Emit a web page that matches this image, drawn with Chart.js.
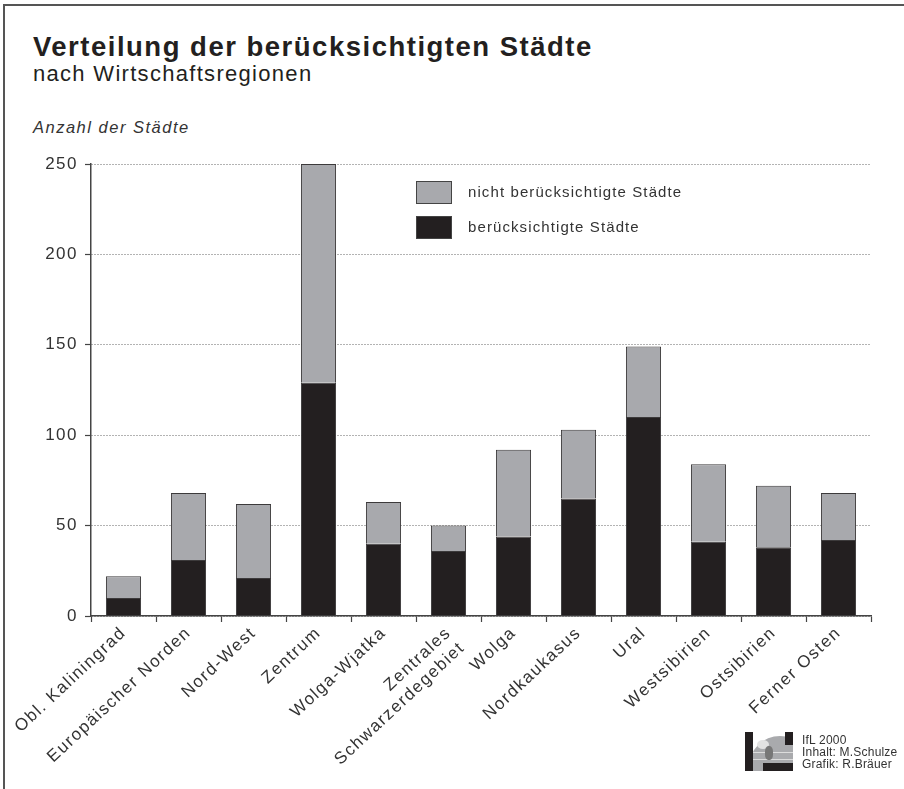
<!DOCTYPE html>
<html lang="de">
<head>
<meta charset="utf-8">
<title>Verteilung der berücksichtigten Städte</title>
<script src="https://cdn.jsdelivr.net/npm/chart.js@4/dist/chart.umd.min.js"></script>
<style>
    html, body { margin: 0; padding: 0; background: #fff; }
    body { width: 904px; height: 789px; position: relative; overflow: hidden;
           font-family: "Liberation Sans", Arial, sans-serif; color: #231f20; }
    .frame { position: absolute; left: 3px; top: 4px; width: 1000px; height: 900px;
             border-top: 2px solid #555; border-left: 2px solid #555; }
    .txt { position: absolute; white-space: nowrap; line-height: 1; }
    .title { left: 33px; top: 33px; font-size: 27.5px; font-weight: bold; letter-spacing: 1.5px; }
    .subtitle { left: 33px; top: 63px; font-size: 22px; letter-spacing: 1.3px; }
    .ytitle { left: 33px; top: 119px; font-size: 16.5px; font-style: italic; letter-spacing: 1.5px; color: #333; }
    canvas { position: absolute; left: 0; top: 0; }
    .legend { position: absolute; left: 416px; top: 181px; }
    .legend-row { position: relative; height: 35px; }
    .legend-box { position: absolute; left: 0; top: 0; width: 34px; height: 21px; border: 1px solid #444; }
    .legend-label { position: absolute; left: 52px; top: 3px; font-size: 15px; letter-spacing: 1.1px;
                    white-space: nowrap; color: #333; line-height: 1; }
    .logo { position: absolute; left: 745px; top: 732px; width: 48px; height: 39px; overflow: hidden; }
    .logo div { position: absolute; }
    .credits { position: absolute; left: 802px; top: 734px; font-size: 12px; line-height: 12px;
               letter-spacing: 0.2px; color: #333; white-space: nowrap; }
</style>
</head>
<body>
<div class="frame"></div>
<div class="txt title">Verteilung der berücksichtigten Städte</div>
<div class="txt subtitle">nach Wirtschaftsregionen</div>
<div class="txt ytitle">Anzahl der Städte</div>
<canvas id="chart" width="904" height="789"></canvas>
<div class="legend" id="legend"></div>
<div class="logo">
    <div style="left:4px;top:4px;width:62px;height:62px;border-radius:50%;background:#a9aaad;"></div>
    <div style="left:8px;top:20px;width:40px;height:1px;background:#dcdcdc;"></div>
    <div style="left:8px;top:27px;width:40px;height:1px;background:#dcdcdc;"></div>
    <div style="left:12px;top:8px;width:12px;height:9px;border-radius:50%;background:#e2e2e2;"></div>
    <div style="left:20px;top:14px;width:8px;height:14px;border-radius:40%;background:#777;"></div>
    <div style="left:0;top:0;width:8px;height:39px;background:#231f20;"></div>
    <div style="left:40px;top:0;width:8px;height:13px;background:#231f20;"></div>
    <div style="left:18px;top:31px;width:30px;height:8px;background:#231f20;"></div>
</div>
<div class="credits">IfL 2000<br>Inhalt: M.Schulze<br>Grafik: R.Bräuer</div>

<script>
// values (number of cities per economic region)
var regions = [
    'Obl. Kaliningrad', 'Europäischer Norden', 'Nord-West', 'Zentrum', 'Wolga-Wjatka',
    ['Zentrales', 'Schwarzerdegebiet'], 'Wolga', 'Nordkaukasus', 'Ural', 'Westsibirien',
    'Ostsibirien', 'Ferner Osten'
];
var consideredCities    = [10, 31, 21, 129, 40, 36, 44, 65, 110, 41, 38, 42];
var notConsideredCities = [12, 37, 41, 121, 23, 14, 48, 38, 39, 43, 34, 26];
var yTicks = [0, 50, 100, 150, 200, 250];

(function () {
    'use strict';

    var BLACK = '#231f20';
    var GREY = '#a8a9ad';
    var EDGE = '#3c3a3b';
    var SPACING = '1.5px';

    // Chart.js has no letter-spacing option; the print uses a wide grotesque
    var spacingPlugin = {
        id: 'spacing',
        beforeUpdate: function (chart) { chart.ctx.letterSpacing = SPACING; },
        beforeDraw: function (chart) { chart.ctx.letterSpacing = SPACING; }
    };

    Chart.defaults.font.family = '"Liberation Sans", Arial, sans-serif';
    Chart.defaults.color = '#333';

    var datasets = [
        { label: 'berücksichtigte Städte', data: consideredCities, backgroundColor: BLACK,
          borderColor: EDGE, borderWidth: 1, stack: 'cities' },
        { label: 'nicht berücksichtigte Städte', data: notConsideredCities, backgroundColor: GREY,
          borderColor: EDGE, borderWidth: 1, stack: 'cities' }
    ];

    // legend: upper entry is the grey (top) segment
    var legend = document.getElementById('legend');
    datasets.slice().reverse().forEach(function (ds) {
        var row = document.createElement('div');
        row.className = 'legend-row';
        row.innerHTML = '<div class="legend-box" style="background:' + ds.backgroundColor + '"></div>' +
            '<div class="legend-label"></div>';
        row.querySelector('.legend-label').textContent = ds.label;
        legend.appendChild(row);
    });

    new Chart(document.getElementById('chart'), {
        type: 'bar',
        data: { labels: regions, datasets: datasets },
        plugins: [spacingPlugin],
        options: {
            responsive: false,
            animation: false,
            layout: { padding: { top: 164, right: 33, left: 0, bottom: 0 } },
            plugins: {
                legend: { display: false },
                tooltip: { enabled: false }
            },
            datasets: { bar: { barPercentage: 0.54, categoryPercentage: 1.0 } },
            scales: {
                x: {
                    stacked: true,
                    offset: true,
                    grid: { display: true, drawOnChartArea: false, drawTicks: true,
                            tickLength: 6, tickColor: '#444', tickWidth: 1.2 },
                    border: { display: true, color: '#444', width: 1.5 },
                    ticks: { minRotation: 43, maxRotation: 43, autoSkip: false, padding: 1,
                             color: '#333', font: { size: 17 } },
                    afterFit: function (scale) { scale.height = 173; }
                },
                y: {
                    stacked: true,
                    min: 0,
                    max: 250,
                    afterBuildTicks: function (scale) {
                        scale.ticks = yTicks.map(function (v) { return { value: v }; });
                    },
                    grid: { color: '#666', lineWidth: 1, drawTicks: true, tickLength: 6,
                            tickColor: '#444', tickWidth: 1.2, tickBorderDash: [] },
                    border: { display: true, color: '#444', width: 1.5, dash: [1, 2] },
                    ticks: { padding: 7, color: '#333', font: { size: 17 } },
                    afterFit: function (scale) { scale.width = 91; }
                }
            }
        }
    });
})();
</script>
</body>
</html>
